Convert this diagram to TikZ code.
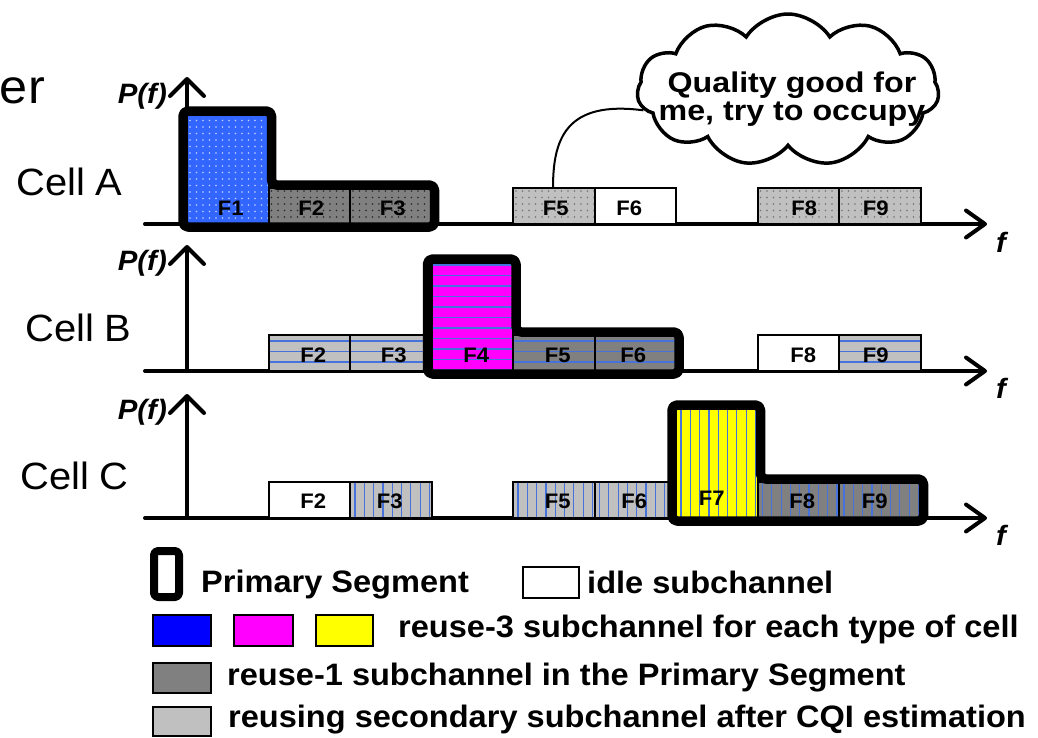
\documentclass[tikz,border=0pt]{standalone}
\usepackage{fontspec}
\setmainfont{Liberation Sans}[FakeStretch=1.05]
\newfontfamily\cloudfont{Liberation Sans}[FakeStretch=1.13]
\usetikzlibrary{arrows.meta,shapes.symbols}

\definecolor{cellblue}{RGB}{51,102,255}
\definecolor{keyblue}{RGB}{0,0,255}
\definecolor{chmag}{RGB}{255,0,255}
\definecolor{chyel}{RGB}{255,255,0}
\definecolor{dgray}{RGB}{128,128,128}
\definecolor{lgray}{RGB}{192,192,192}
\definecolor{hatchblue}{RGB}{70,114,220}

% one subchannel: name, x-left, x-right, top, bottom, fill style, label, label x shift, label rise
\newcommand\subch[9]{%
  \path[#6] (#2,#4) rectangle (#3,#5);
  \draw[boxline] (#2,#4) rectangle (#3,#5);
  \node[flabel] (#1) at ({(#2+#3)/2+#8},{#5-#9}) {#7};
}

\begin{document}
\begin{tikzpicture}[x=1pt,y=-1pt,
  boxline/.style={draw=black, line width=2pt},
  flabel/.style={font=\bfseries\fontsize{21}{21}\selectfont, anchor=base, inner sep=0pt},
  primary/.style={draw=black, line width=9.5pt, rounded corners=5pt, line join=round},
  axisline/.style={draw=black, line width=4pt, line cap=round},
  uparrow/.style={axisline, -{Straight Barb[length=17pt,width=34pt,line cap=round,line join=round]}},
  rightarrow/.style={axisline, -{Straight Barb[length=19pt,width=27pt,line cap=round,line join=round]}},
  celltext/.style={font=\fontsize{38}{38}\selectfont, anchor=base west, inner sep=0pt},
  pflabel/.style={font=\bfseries\itshape\fontsize{28}{28}\selectfont, inner sep=0pt},
  legtext/.style={font=\bfseries\fontsize{31}{31}\selectfont, anchor=base west, inner sep=0pt},
  keybox/.style={draw=black, line width=2.5pt},
  % textures drawn inside a subchannel
  dotted fill/.style={path picture={
    \foreach \i in {0,...,13} \foreach \j in {0,...,17}
      \fill[#1] ([xshift=\i*6.5pt+3pt, yshift=-\j*6.5pt-3pt]path picture bounding box.north west) circle (0.8pt);}},
  hline fill/.style={path picture={
    \foreach \k in {0,...,11}
      \draw[hatchblue, line width=1.2pt] ([yshift=-\k*10.5pt-6pt]path picture bounding box.north west) -- ++(100,0);}},
  vline fill/.style={path picture={
    \foreach \k in {0,...,9}
      \draw[hatchblue, line width=1.2pt] ([xshift=\k*9.3pt+5pt]path picture bounding box.north west) -- ++(0,120);}},
  dotsblue/.style={fill=cellblue, dotted fill=white!70!cellblue},
  dotsdark/.style={fill=dgray, dotted fill=black!85},
  dotslight/.style={fill=lgray, dotted fill=black!55},
  idle/.style={fill=white},
  hmag/.style={fill=chmag, hline fill},
  hdark/.style={fill=dgray, hline fill},
  hlight/.style={fill=lgray, hline fill},
  vyel/.style={fill=chyel, vline fill},
  vdark/.style={fill=dgray, vline fill},
  vlight/.style={fill=lgray, vline fill},
]
\path[use as bounding box] (0,0) rectangle (1038,737);

% ---------- Cell A ----------
\coordinate (A0) at (145,224);
\coordinate (Af) at (987,224);
\coordinate (Ay0) at (187,224);
\coordinate (Ay1) at (187,77);
\draw[uparrow] (Ay0) -- (Ay1);
\draw[rightarrow] (A0) -- (Af);
\subch{A1}{187}{268.5}{111}{224}{dotsblue}{F1}{3}{9}
\subch{A2}{268.5}{350}{188}{224}{dotsdark}{F2}{2}{9}
\subch{A3}{350}{431.5}{188}{224}{dotsdark}{F3}{2}{9}
\subch{A5}{513}{594.5}{188}{224}{dotslight}{F5}{2}{9}
\subch{A6}{594.5}{676}{188}{224}{idle}{F6}{-6}{9}
\subch{A8}{757.5}{839}{188}{224}{dotslight}{F8}{6}{9}
\subch{A9}{839}{920.5}{188}{224}{dotslight}{F9}{-4}{9}
\draw[primary] (183,227) -- (183,111) -- (271.5,111) -- (271.5,185)
  -- (434.5,185) -- (434.5,227) -- cycle;
\node[celltext] (cellA) at (16,195) {Cell A};
\node[pflabel, anchor=base east] (pA) at (167,103) {P(f)};
\node[pflabel, anchor=base west] (fA) at (996,252) {f};

% ---------- Cell B ----------
\coordinate (B0) at (145,371);
\coordinate (Bf) at (987,371);
\coordinate (By0) at (187,371);
\coordinate (By1) at (187,245);
\draw[uparrow] (By0) -- (By1);
\draw[rightarrow] (B0) -- (Bf);
\subch{B2}{268.5}{350}{335}{371}{hlight}{F2}{4}{9}
\subch{B3}{350}{431.5}{335}{371}{hlight}{F3}{3}{9}
\subch{B4}{431.5}{513}{259}{371}{hmag}{F4}{4}{9}
\subch{B5}{513}{594.5}{335}{371}{hdark}{F5}{4}{9}
\subch{B6}{594.5}{676}{335}{371}{hdark}{F6}{-2}{9}
\subch{B8}{757.5}{839}{335}{371}{idle}{F8}{5}{9}
\subch{B9}{839}{920.5}{335}{371}{hlight}{F9}{-4}{9}
\draw[primary] (427.5,374) -- (427.5,259) -- (516,259) -- (516,332)
  -- (679,332) -- (679,374) -- cycle;
\node[celltext] (cellB) at (25,341) {Cell B};
\node[pflabel, anchor=base east] (pB) at (167,270) {P(f)};
\node[pflabel, anchor=base west] (fB) at (996,398) {f};

% ---------- Cell C ----------
\coordinate (C0) at (145,518);
\coordinate (Cf) at (987,518);
\coordinate (Cy0) at (187,518);
\coordinate (Cy1) at (187,394);
\draw[uparrow] (Cy0) -- (Cy1);
\draw[rightarrow] (C0) -- (Cf);
\subch{C2}{268.5}{350}{482}{518}{idle}{F2}{4}{10}
\subch{C3}{350}{431.5}{482}{518}{vlight}{F3}{-1}{10}
\subch{C5}{513}{594.5}{482}{518}{vlight}{F5}{4}{10}
\subch{C6}{594.5}{676}{482}{518}{vlight}{F6}{-1}{10}
\subch{C7}{676}{757.5}{405}{518}{vyel}{F7}{-5}{13}
\subch{C8}{757.5}{839}{482}{518}{vdark}{F8}{4}{10}
\subch{C9}{839}{920.5}{482}{518}{vdark}{F9}{-5}{10}
\draw[primary] (672,521) -- (672,405) -- (760.5,405) -- (760.5,479)
  -- (923.5,479) -- (923.5,521) -- cycle;
\node[celltext] (cellC) at (20,489) {Cell C};
\node[pflabel, anchor=base east] (pC) at (167,419) {P(f)};
\node[pflabel, anchor=base west] (fC) at (996,545) {f};

% ---------- word cut at the left edge ----------
\node[font=\fontsize{48}{48}\selectfont, anchor=base east, inner sep=0pt] (er) at (45,103) {er};

% ---------- thought cloud ----------
\node[cloud, draw=black, fill=white, line width=3.5pt, cloud puffs=11, cloud puff arc=115,
  aspect=2, minimum width=302pt, minimum height=152pt, inner sep=0pt] (cl) at (788,90) {};
\node[font=\cloudfont\bfseries\fontsize{28.5}{28.5}\selectfont, align=center, inner sep=0pt] (ctext)
  at (792,99) {Quality good for\\me, try to occupy};
\coordinate (A5top) at (553,188);
\draw[line width=2pt] (cl.188) .. controls (565,100) and (553,140) .. (A5top);

% ---------- legend ----------
\draw[primary, line width=8pt, rounded corners=4pt] (154,551) rectangle (179,597);
\node[legtext] (lprim) at (201,592) {Primary Segment};
\draw[keybox, fill=white] (523,567) rectangle (579,598);
\node[legtext] (lidle) at (587,593) {idle subchannel};
\draw[keybox, fill=keyblue] (153,615) rectangle (211,646);
\draw[keybox, fill=chmag] (234,615) rectangle (293,646);
\draw[keybox, fill=chyel] (316,615) rectangle (373,646);
\node[legtext] (lreuse3) at (398,637) {reuse-3 subchannel for each type of cell};
\draw[keybox, fill=dgray] (153,663) rectangle (211,693);
\node[legtext] (lreuse1) at (227,685) {reuse-1 subchannel in the Primary Segment};
\draw[keybox, fill=lgray] (153,707) rectangle (211,736);
\node[legtext] (lsec) at (228,727) {reusing secondary subchannel after CQI estimation};
\end{tikzpicture}
\end{document}
